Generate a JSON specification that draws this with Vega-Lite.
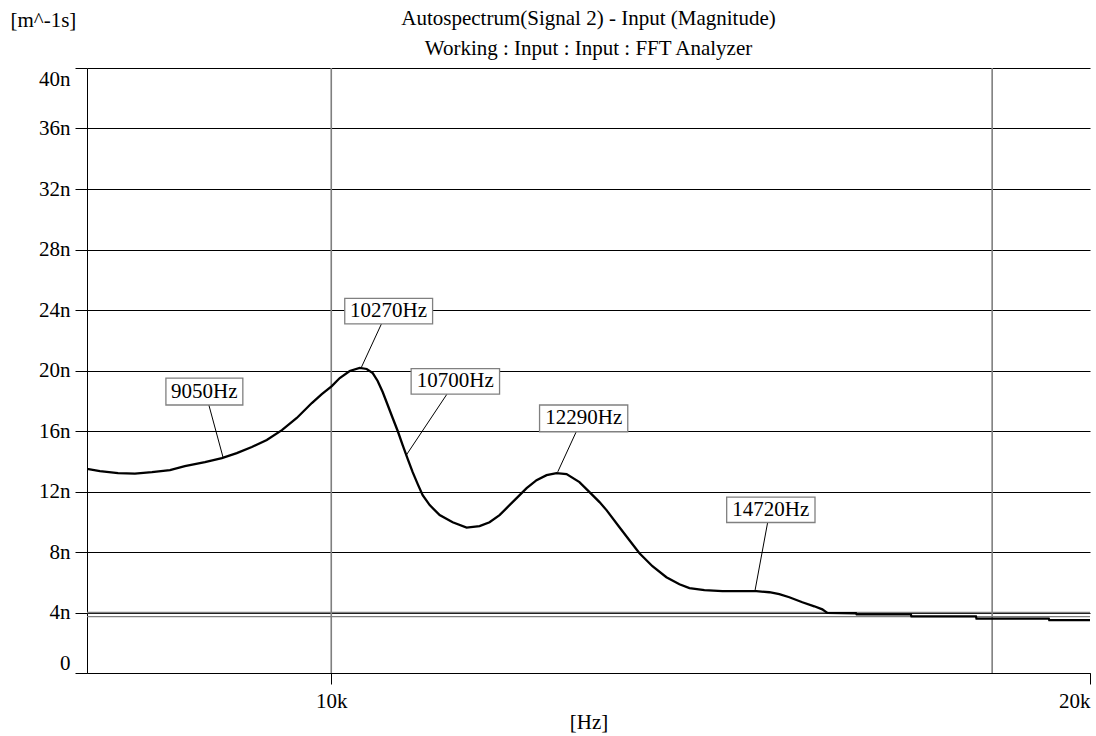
{
  "$schema": "https://vega.github.io/schema/vega-lite/v6.json",
  "width": 1003,
  "height": 605,
  "autosize": {"type": "none"},
  "padding": {"left": 87, "top": 68, "right": 6, "bottom": 63},
  "background": "white",
  "config": {
    "font": "Liberation Serif",
    "view": {"stroke": null},
    "axis": {
      "labelFont": "Liberation Serif",
      "titleFont": "Liberation Serif",
      "labelFontSize": 21,
      "titleFontSize": 21,
      "titleFontWeight": "normal",
      "labelColor": "black",
      "titleColor": "black",
      "tickColor": "black",
      "domainColor": "black",
      "domainWidth": 1,
      "tickWidth": 1,
      "labelOverlap": false
    }
  },
  "title": {
    "text": ["Autospectrum(Signal 2) - Input (Magnitude)", "Working : Input : Input : FFT Analyzer"],
    "font": "Liberation Serif",
    "fontSize": 21,
    "fontWeight": "normal",
    "color": "black",
    "lineHeight": 30,
    "offset": 6,
    "dy": 56,
    "anchor": "middle"
  },
  "datasets": {
    "spectrum": [
      {"f": 8000, "a": 13.5}, {"f": 8095, "a": 13.35}, {"f": 8230, "a": 13.22}, {"f": 8358, "a": 13.18},
      {"f": 8489, "a": 13.28}, {"f": 8630, "a": 13.42}, {"f": 8748, "a": 13.68}, {"f": 8910, "a": 13.95},
      {"f": 9049, "a": 14.21}, {"f": 9173, "a": 14.54}, {"f": 9300, "a": 14.94}, {"f": 9428, "a": 15.4},
      {"f": 9559, "a": 16.06}, {"f": 9690, "a": 16.86}, {"f": 9824, "a": 17.85}, {"f": 9914, "a": 18.44},
      {"f": 10005, "a": 18.97}, {"f": 10078, "a": 19.5}, {"f": 10170, "a": 19.97}, {"f": 10263, "a": 20.17},
      {"f": 10329, "a": 20.1}, {"f": 10386, "a": 19.83}, {"f": 10433, "a": 19.31}, {"f": 10481, "a": 18.58},
      {"f": 10529, "a": 17.72}, {"f": 10577, "a": 16.86}, {"f": 10626, "a": 16.0}, {"f": 10674, "a": 15.07},
      {"f": 10723, "a": 14.15}, {"f": 10772, "a": 13.28}, {"f": 10822, "a": 12.49}, {"f": 10871, "a": 11.76},
      {"f": 10941, "a": 11.1}, {"f": 11041, "a": 10.44}, {"f": 11173, "a": 9.97}, {"f": 11316, "a": 9.61},
      {"f": 11451, "a": 9.71}, {"f": 11556, "a": 9.97}, {"f": 11662, "a": 10.44}, {"f": 11737, "a": 10.9},
      {"f": 11845, "a": 11.56}, {"f": 11954, "a": 12.22}, {"f": 12063, "a": 12.75}, {"f": 12174, "a": 13.08},
      {"f": 12285, "a": 13.22}, {"f": 12398, "a": 13.15}, {"f": 12545, "a": 12.62}, {"f": 12661, "a": 11.96},
      {"f": 12777, "a": 11.3}, {"f": 12859, "a": 10.77}, {"f": 13012, "a": 9.64}, {"f": 13131, "a": 8.78},
      {"f": 13252, "a": 7.92}, {"f": 13410, "a": 7.06}, {"f": 13582, "a": 6.33}, {"f": 13745, "a": 5.87},
      {"f": 13871, "a": 5.61}, {"f": 14062, "a": 5.48}, {"f": 14295, "a": 5.41}, {"f": 14519, "a": 5.41},
      {"f": 14746, "a": 5.41}, {"f": 14922, "a": 5.34}, {"f": 15058, "a": 5.21}, {"f": 15196, "a": 5.01},
      {"f": 15378, "a": 4.68}, {"f": 15547, "a": 4.41}, {"f": 15661, "a": 4.21}, {"f": 15733, "a": 3.97},
      {"f": 16150, "a": 3.95}, {"f": 16160, "a": 3.88}, {"f": 16980, "a": 3.88}, {"f": 16990, "a": 3.75},
      {"f": 18020, "a": 3.75}, {"f": 18030, "a": 3.6}, {"f": 19260, "a": 3.6}, {"f": 19270, "a": 3.49},
      {"f": 20000, "a": 3.49}
    ],
    "vlines": [{"f": 10000}, {"f": 18290}],
    "hlines": [{"a": 4.0}, {"a": 3.73}],
    "markers": [
      {"label": "9050Hz", "f": 9058, "a": 14.28, "lf": 8942, "la": 17.72, "f1": 8598, "f2": 9224, "a1": 17.72, "a2": 19.5, "tf": 8905, "ta": 18.61},
      {"label": "10270Hz", "f": 10279, "a": 20.21, "lf": 10469, "la": 23.08, "f1": 10124, "f2": 10970, "a1": 23.08, "a2": 24.77, "tf": 10538, "ta": 23.92},
      {"label": "10700Hz", "f": 10710, "a": 14.41, "lf": 11115, "la": 18.44, "f1": 10757, "f2": 11662, "a1": 18.44, "a2": 20.13, "tf": 11200, "ta": 19.29},
      {"label": "12290Hz", "f": 12299, "a": 13.3, "lf": 12508, "la": 15.95, "f1": 12096, "f2": 13111, "a1": 15.95, "a2": 17.72, "tf": 12594, "ta": 16.84},
      {"label": "14720Hz", "f": 14728, "a": 5.47, "lf": 14898, "la": 9.95, "f1": 14351, "f2": 15557, "a1": 9.95, "a2": 11.63, "tf": 14942, "ta": 10.79}
    ]
  },
  "layer": [
    {
      "data": {"name": "vlines"},
      "mark": {"type": "rule", "color": "#7f7f7f", "strokeWidth": 1.6},
      "encoding": {
        "x": {
          "field": "f", "type": "quantitative",
          "scale": {"type": "log", "domain": [8000, 20000], "nice": false},
          "axis": {
            "title": "[Hz]",
            "values": [10000, 20000],
            "labelExpr": "datum.value / 1000 + 'k'",
            "grid": false,
            "tickSize": 11,
            "labelFlush": true,
            "labelBaseline": "alphabetic",
            "labelPadding": 23,
            "titleY": 55,
            "titleBaseline": "alphabetic"
          }
        }
      }
    },
    {
      "data": {"name": "hlines"},
      "mark": {"type": "rule", "color": "#7f7f7f", "strokeWidth": 1.3},
      "encoding": {
        "y": {
          "field": "a", "type": "quantitative",
          "scale": {"domain": [0, 40], "nice": false, "zero": true},
          "axis": {
            "title": "[m^-1s]",
            "values": [0, 4, 8, 12, 16, 20, 24, 28, 32, 36, 40],
            "labelExpr": "datum.value == 0 ? '0' : datum.value + 'n'",
            "grid": true,
            "gridColor": "black",
            "gridWidth": 1,
            "gridOpacity": 1,
            "tickSize": 12,
            "labelPadding": 5,
            "labelFlush": true,
            "titleAngle": 0,
            "titleX": -77,
            "titleY": -42,
            "titleAlign": "left",
            "titleBaseline": "alphabetic"
          }
        }
      }
    },
    {
      "data": {"name": "spectrum"},
      "mark": {"type": "line", "color": "black", "strokeWidth": 2.3, "clip": true},
      "encoding": {
        "x": {"field": "f", "type": "quantitative"},
        "y": {"field": "a", "type": "quantitative"}
      }
    },
    {
      "data": {"name": "markers"},
      "mark": {"type": "rule", "color": "black", "strokeWidth": 1},
      "encoding": {
        "x": {"field": "lf", "type": "quantitative"},
        "y": {"field": "la", "type": "quantitative"},
        "x2": {"field": "f"},
        "y2": {"field": "a"}
      }
    },
    {
      "data": {"name": "markers"},
      "mark": {"type": "rect", "fill": "white", "stroke": "#808080", "strokeWidth": 1.3},
      "encoding": {
        "x": {"field": "f1", "type": "quantitative"},
        "x2": {"field": "f2"},
        "y": {"field": "a1", "type": "quantitative"},
        "y2": {"field": "a2"}
      }
    },
    {
      "data": {"name": "markers"},
      "mark": {"type": "text", "font": "Liberation Serif", "fontSize": 21, "color": "black", "align": "center", "baseline": "middle"},
      "encoding": {
        "x": {"field": "tf", "type": "quantitative"},
        "y": {"field": "ta", "type": "quantitative"},
        "text": {"field": "label"}
      }
    }
  ]
}
